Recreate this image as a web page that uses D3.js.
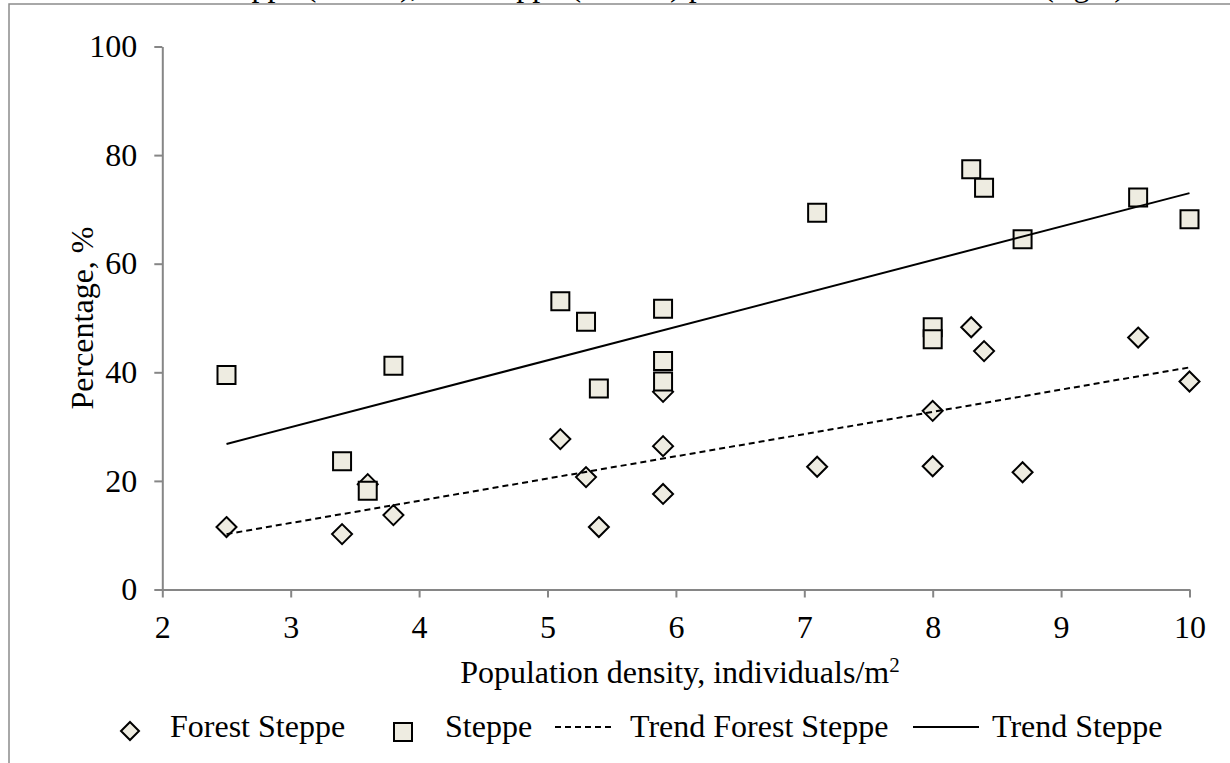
<!DOCTYPE html>
<html><head><meta charset="utf-8">
<script src="https://cdn.jsdelivr.net/npm/d3@7"></script>
<style>
html,body{margin:0;padding:0;background:#fff;}
svg{display:block;}
text{font-family:"Liberation Serif","Times New Roman",serif;fill:#000;}
</style></head>
<body>
<svg id="c" width="1230" height="763"></svg>
<script>
// ---- data ----
const forestX = [2.5, 3.4, 3.6, 3.8, 5.1, 5.3, 5.4, 5.9, 5.9, 5.9, 7.1, 8.0, 8.0, 8.3, 8.4, 8.7, 9.6, 10];
const forestY = [11.5, 10.2, 19.4, 13.7, 27.7, 20.7, 11.5, 36.4, 26.4, 17.6, 22.6, 32.9, 22.7, 48.3, 43.9, 21.6, 46.4, 38.3];
const steppeX = [2.5, 3.4, 3.6, 3.8, 5.1, 5.3, 5.4, 5.9, 5.9, 5.9, 7.1, 8.0, 8.0, 8.3, 8.4, 8.7, 9.6, 10];
const steppeY = [39.5, 23.6, 18.2, 41.2, 53.1, 49.3, 37.0, 51.7, 42.1, 38.3, 69.4, 48.3, 46.1, 77.4, 74.0, 64.5, 72.2, 68.2];
const trendForestX = [2.5, 10];
const trendForestY = [10.2, 40.9];
const trendSteppeX = [2.5, 10];
const trendSteppeY = [26.8, 73.0];
const xTicks = [2, 3, 4, 5, 6, 7, 8, 9, 10];
const yTicks = [0, 20, 40, 60, 80, 100];
const legendLabels = ["Forest Steppe", "Steppe", "Trend Forest Steppe", "Trend Steppe"];
const xTitle = "Population density, individuals/m";
const yTitle = "Percentage, %";
const titleText = "Forest steppe (circles), and steppe (middle) plotted as markers on chart (right)";

// ---- setup ----
const svg = d3.select("#c");
const FS = 32;
const axisColor = "#868686";
const fillColor = "#EEECE1";
const x = d3.scaleLinear().domain([2, 10]).range([162.3, 1189.5]);
const y = d3.scaleLinear().domain([0, 100]).range([589.5, 46.5]);

// outer frame (cropped)
svg.append("path").attr("d", "M9,763V4H1230").attr("fill", "none")
  .attr("stroke", "#8c8c8c").attr("stroke-width", 1.5);

// cropped title (only the bottom of its glyphs is visible, as in the reference)
svg.append("text").attr("x", 128).attr("y", -4).attr("font-size", FS).text(titleText);

// axes
const gy = svg.append("g").attr("transform", `translate(${x(2)},0)`)
  .call(d3.axisLeft(y).tickValues(yTicks).tickSize(8).tickSizeOuter(0).tickPadding(17));
const gx = svg.append("g").attr("transform", `translate(0,${y(0)})`)
  .call(d3.axisBottom(x).tickValues(xTicks).tickSize(8).tickSizeOuter(0).tickPadding(18));
[gx, gy].forEach(g => {
  g.selectAll("path,line").attr("stroke", axisColor).attr("stroke-width", 2);
  g.selectAll("text").attr("font-size", FS).attr("font-family", '"Liberation Serif","Times New Roman",serif').attr("fill", "#000");
});

// axis titles
const xt = svg.append("text").attr("x", (x(2) + x(10)) / 2 + 4).attr("y", 683)
  .attr("text-anchor", "middle").attr("font-size", FS);
xt.append("tspan").text(xTitle);
xt.append("tspan").attr("dy", -11).attr("font-size", 21).text("2");

svg.append("text").attr("transform", `translate(93,${(y(0) + y(100)) / 2}) rotate(-90)`)
  .attr("text-anchor", "middle").attr("font-size", FS).text(yTitle);

// markers
const diamond = r => `M0,${-r}L${r},0L0,${r}L${-r},0Z`;
const square = h => `M${-h},${-h}H${h}V${h}H${-h}Z`;

svg.append("g").selectAll("path").data(d3.range(forestX.length)).join("path")
  .attr("transform", i => `translate(${x(forestX[i])},${y(forestY[i])})`)
  .attr("d", diamond(10)).attr("fill", fillColor).attr("stroke", "#000").attr("stroke-width", 2);

svg.append("g").selectAll("path").data(d3.range(steppeX.length)).join("path")
  .attr("transform", i => `translate(${x(steppeX[i])},${y(steppeY[i])})`)
  .attr("d", square(9)).attr("fill", fillColor).attr("stroke", "#000").attr("stroke-width", 2);

// trend lines
const line = d3.line().x(d => x(d[0])).y(d => y(d[1]));
svg.append("path").datum(trendForestX.map((v, i) => [v, trendForestY[i]]))
  .attr("d", line).attr("fill", "none").attr("stroke", "#000").attr("stroke-width", 2)
  .attr("stroke-dasharray", "6,4");
svg.append("path").datum(trendSteppeX.map((v, i) => [v, trendSteppeY[i]]))
  .attr("d", line).attr("fill", "none").attr("stroke", "#000").attr("stroke-width", 2);

// legend
const ly = 737, lm = 727;
const lg = svg.append("g");
lg.append("path").attr("transform", `translate(130,${lm + 4})`).attr("d", diamond(9))
  .attr("fill", fillColor).attr("stroke", "#000").attr("stroke-width", 2);
lg.append("text").attr("x", 170).attr("y", ly).attr("font-size", FS).text(legendLabels[0]);
lg.append("path").attr("transform", `translate(403,${lm + 5})`).attr("d", square(9))
  .attr("fill", fillColor).attr("stroke", "#000").attr("stroke-width", 2);
lg.append("text").attr("x", 445).attr("y", ly).attr("font-size", FS).text(legendLabels[1]);
lg.append("line").attr("x1", 555).attr("x2", 614).attr("y1", lm).attr("y2", lm)
  .attr("stroke", "#000").attr("stroke-width", 2).attr("stroke-dasharray", "6,4");
lg.append("text").attr("x", 630).attr("y", ly).attr("font-size", FS).text(legendLabels[2]);
lg.append("line").attr("x1", 913).attr("x2", 979).attr("y1", lm).attr("y2", lm)
  .attr("stroke", "#000").attr("stroke-width", 2);
lg.append("text").attr("x", 992).attr("y", ly).attr("font-size", FS).text(legendLabels[3]);
</script>
</body></html>
